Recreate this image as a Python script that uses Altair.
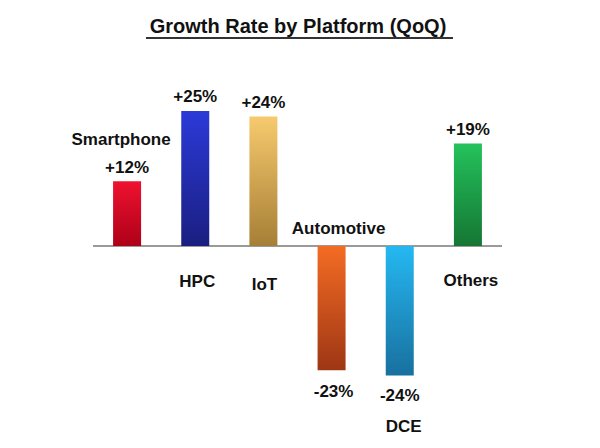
import altair as alt
import pandas as pd

chart_title = "Growth Rate by Platform (QoQ)"
platforms = ["Smartphone", "HPC", "IoT", "Automotive", "DCE", "Others"]
growth = [12, 25, 24, -23, -24, 19]

# styling (kept apart from data)
top_colors = ["#ee1230", "#2c3ad8", "#f7ca6e", "#f46c24", "#25b8f2", "#24c25c"]
bottom_colors = ["#ae0018", "#1a1e80", "#a67f36", "#9e3614", "#18709e", "#157633"]
# value-label offsets (dx, dy) relative to bar end
value_off = [(0, -8), (0, -9), (0, -8), (2, 27), (0, 25), (0, -8)]
# name-label anchor ("end" of bar or "zero" line) and offsets
name_off = [("end", -6, -36), ("zero", 2, 41), ("zero", 1, 44),
            ("zero", 7, -12), ("end", 4, 56), ("zero", 3, 40)]

df = pd.DataFrame({"platform": platforms, "growth": growth})

x_enc = alt.X("platform:N", sort=platforms,
              scale=alt.Scale(paddingInner=0, paddingOuter=0), axis=None)
y_scale = alt.Scale(domain=[-30, 30], nice=False, zero=False)
y_enc = alt.Y("growth:Q", scale=y_scale, axis=None)
y_zero = alt.Y("zero:Q", scale=y_scale, axis=None)

FONT = "Liberation Sans"
text_style = dict(font=FONT, fontSize=17, fontWeight="bold", color="#111111",
                  baseline="alphabetic", align="center")

base = alt.Chart(df).transform_calculate(zero="0")

layers = []

# baseline
layers.append(
    base.mark_rule(color="#9a9a9a", strokeWidth=1.5).encode(y=y_zero)
)

for i, p in enumerate(platforms):
    sub = base.transform_filter(alt.datum.platform == p)
    grad = alt.LinearGradient(
        gradient="linear",
        stops=[alt.GradientStop(offset=0, color=top_colors[i]),
               alt.GradientStop(offset=1, color=bottom_colors[i])],
        x1=0, x2=0, y1=0, y2=1,
    )
    layers.append(
        sub.mark_bar(color=grad, width=28).encode(
            x=x_enc, y=y_enc, y2="zero:Q"
        )
    )
    vdx, vdy = value_off[i]
    layers.append(
        sub.transform_calculate(
            label="(datum.growth > 0 ? '+' : '') + datum.growth + '%'"
        ).mark_text(dx=vdx, dy=vdy, **text_style).encode(
            x=x_enc, y=y_enc, text="label:N"
        )
    )
    anchor, ndx, ndy = name_off[i]
    ny = y_enc if anchor == "end" else y_zero
    layers.append(
        sub.mark_text(dx=ndx, dy=ndy, **text_style).encode(
            x=x_enc, y=ny, text="platform:N"
        )
    )

title_df = pd.DataFrame({"t": [chart_title]})
layers.append(
    alt.Chart(title_df).mark_text(font=FONT, fontSize=20, fontWeight="bold",
                                  color="#111111", baseline="alphabetic",
                                  align="center").encode(
        text="t:N", x=alt.value(205), y=alt.value(-51)
    )
)
layers.append(
    alt.Chart(title_df).mark_rule(color="#333333", strokeWidth=2).encode(
        x=alt.value(53), x2=alt.value(360), y=alt.value(-46)
    )
)

chart = alt.layer(*layers).properties(
    width=409, height=324,
    autosize=alt.AutoSizeParams(type="none"),
    padding={"left": 93, "right": 98, "top": 84, "bottom": 40},
    background="white",
).configure_view(stroke=None)

chart.save("out.html", embed_options={"renderer": "svg", "actions": False})
